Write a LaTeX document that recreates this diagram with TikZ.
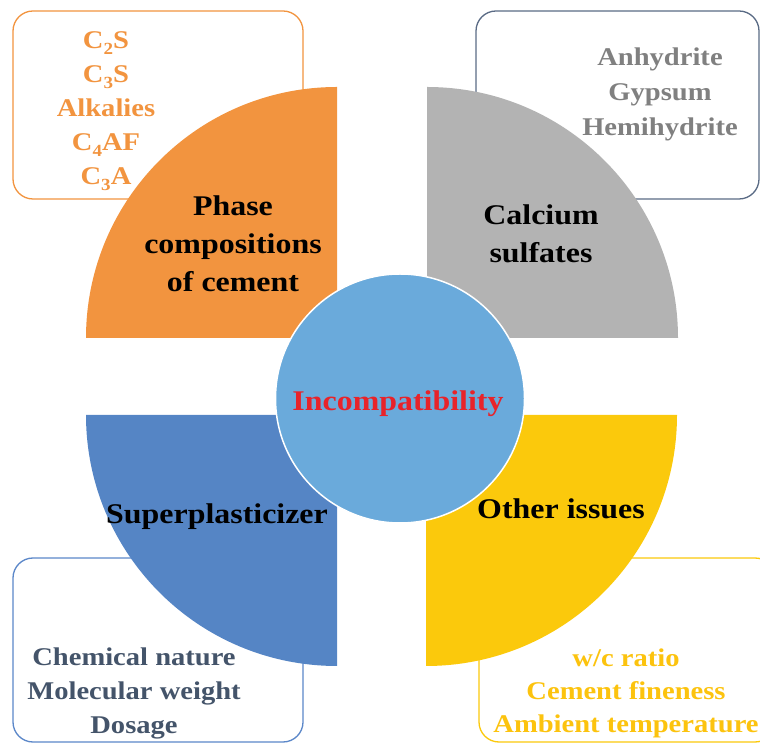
\documentclass[tikz,border=0pt]{standalone}
\usepackage{fontspec}
\setmainfont{Liberation Serif}[FakeStretch=1.12]
\newcommand{\lowsub}[1]{\raisebox{-6.5pt}{\fontsize{17}{17}\selectfont #1}}
\begin{document}
\definecolor{cOrange}{HTML}{F2943F}
\definecolor{cGrey}{HTML}{B3B3B3}
\definecolor{cBlue}{HTML}{5585C5}
\definecolor{cYellow}{HTML}{FBC90C}
\definecolor{cCircle}{HTML}{6AAADB}
\definecolor{cRed}{HTML}{E8232A}
\definecolor{cGreyText}{HTML}{808080}
\definecolor{cSlate}{HTML}{44546A}
\definecolor{cSlateLine}{HTML}{5A6B85}
\definecolor{cBlueLine}{HTML}{5B87C9}
\definecolor{cYellowText}{HTML}{FCC30E}
\begin{tikzpicture}[x=1pt,y=1pt,
  infobox/.style={rounded corners=20pt, line width=1.3pt, fill=white},
  title/.style={font=\fontsize{28.5}{38}\selectfont\bfseries, align=center, text=black, inner sep=0pt},
  items/.style={font=\fontsize{25.5}{34}\selectfont\bfseries, align=center, inner sep=0pt}]
\useasboundingbox (0,0) rectangle (760,744);

% outlined boxes holding the factor lists
\draw[infobox, draw=cOrange] (13,733) rectangle (303,545);
\draw[infobox, draw=cSlateLine] (476,733) rectangle (759,545);
\draw[infobox, draw=cBlueLine] (13,186) rectangle (303,2);
\draw[infobox, draw=cYellow] (479,186) rectangle (775,2);

% four quarter-disc sectors
\fill[cOrange] (337,406) -- ++(-251,0) arc[start angle=180, end angle=90, radius=251] -- cycle;
\fill[cGrey] (427,406) -- ++(0,251) arc[start angle=90, end angle=0, radius=251] -- cycle;
\fill[cBlue] (337,329) -- ++(-251,0) arc[start angle=180, end angle=270, radius=251] -- cycle;
\fill[cYellow] (426,329) -- ++(251,0) arc[start angle=0, end angle=-90, radius=251] -- cycle;

% central circle
\node[circle, fill=cCircle, draw=white, line width=1.5pt, minimum size=249pt, inner sep=0pt] (hub) at (400,345.5) {};
\node[font=\fontsize{28.5}{34}\selectfont\bfseries, text=cRed, anchor=base, inner sep=0pt] (hubtext) at (398,333) {Incompatibility};

% sector titles
\node[title] (phase) at (233,500) {Phase\\compositions\\of cement};
\node[title] (calcium) at (541,510) {Calcium\\sulfates};
\node[title, anchor=base] (superp) at (217,220) {Superplasticizer};
\node[title, anchor=base] (other) at (561,225) {Other issues};

% factor lists
\node[items, text=cOrange, font=\fontsize{25.5}{34}\selectfont\bfseries] (phaselist) at (106,633) {C\lowsub{2}S\\C\lowsub{3}S\\Alkalies\\C\lowsub{4}AF\\C\lowsub{3}A};
\node[items, text=cGreyText, font=\fontsize{25.5}{35}\selectfont\bfseries] (sulfatelist) at (660,650) {Anhydrite\\Gypsum\\Hemihydrite};
\node[items, text=cSlate] (splist) at (134,51) {Chemical nature\\Molecular weight\\Dosage};
\node[items, text=cYellowText, font=\fontsize{25.5}{33}\selectfont\bfseries] (otherlist) at (626,51) {w/c ratio\\Cement fineness\\Ambient temperature};
\end{tikzpicture}
\end{document}
